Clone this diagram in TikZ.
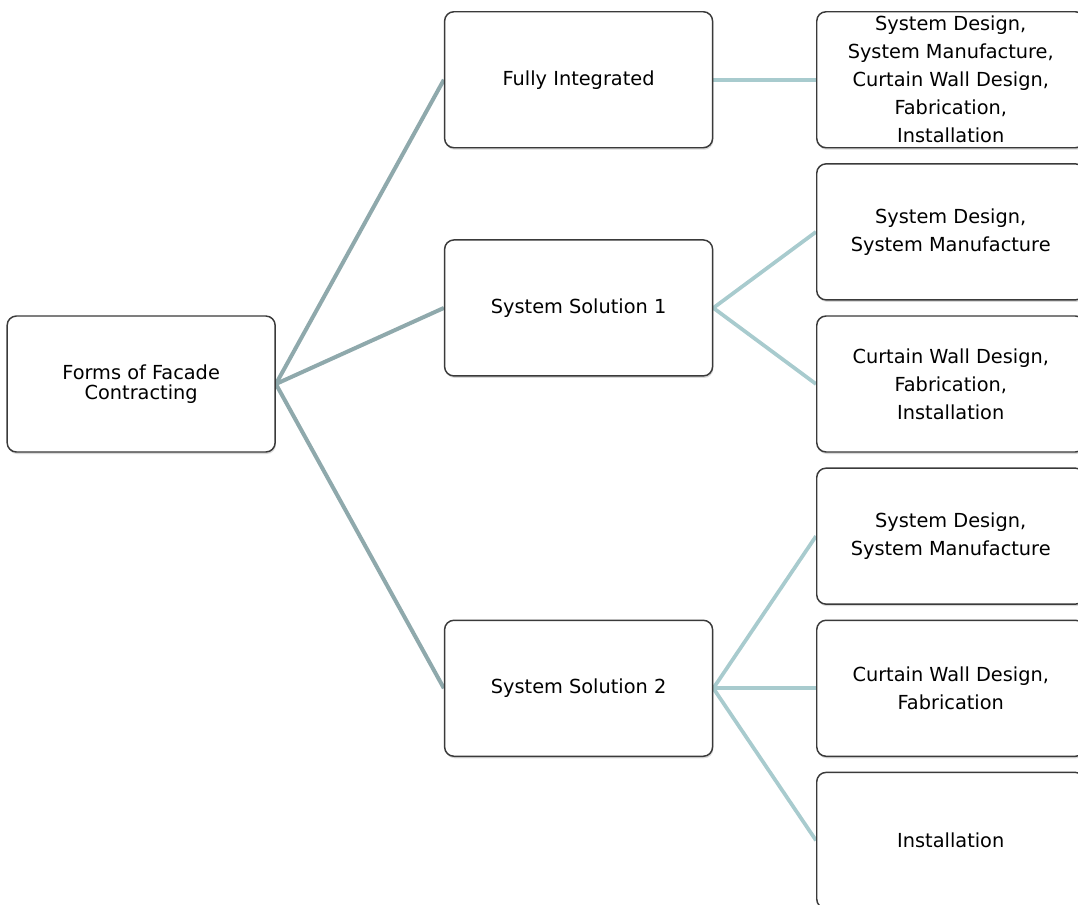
\documentclass[tikz,border=0pt]{standalone}
\usepackage{fontspec}
\setmainfont{DejaVu Sans}
\usetikzlibrary{positioning, calc, shadows, backgrounds}
\definecolor{trunkline}{HTML}{8FA9AC}
\definecolor{branchline}{HTML}{A8CBCE}
\definecolor{boxline}{HTML}{3A3A3A}

\begin{document}
\begin{tikzpicture}[
  x=0.75pt, y=-0.75pt,
  node distance=11pt and 77pt,
  box/.style={draw=boxline, line width=1.1pt, rounded corners=7pt, fill=white,
    minimum width=201pt, minimum height=102pt, align=center,
    font=\fontsize{14.5}{21}\selectfont,
    drop shadow={opacity=0.3, shadow xshift=0.6pt, shadow yshift=-1.5pt}},
  trunk/.style={line width=3pt, color=trunkline},
  branch/.style={line width=2.8pt, color=branchline},
]
\useasboundingbox (0,0) rectangle (1078,904);

% Right column: what each form covers
\node[box, anchor=north west] (r1) at (816,11)
  {System Design,\\System Manufacture,\\Curtain Wall Design,\\Fabrication,\\Installation};
\node[box, below=of r1] (r2) {System Design,\\System Manufacture};
\node[box, below=of r2] (r3) {Curtain Wall Design,\\Fabrication,\\Installation};
\node[box, below=of r3] (r4) {System Design,\\System Manufacture};
\node[box, below=of r4] (r5) {Curtain Wall Design,\\Fabrication};
\node[box, below=of r5] (r6) {Installation};

% Middle column: the forms
\coordinate (gap23) at ($(r2.south west)!0.5!(r3.north west)$);
\node[box, left=of r1] (full) {Fully Integrated};
\node[box, left=of gap23] (sol1) {System Solution 1};
\node[box, left=of r5] (sol2) {System Solution 2};

% Root, level with r3
\coordinate (rootpt) at (sol1.west |- r3.west);
\node[box, left=126pt of rootpt, font=\fontsize{14.5}{15}\selectfont] (root)
  {Forms of Facade\\Contracting};

\begin{scope}[on background layer]
\draw[trunk] (root.east) -- (full.west);
\draw[trunk] (root.east) -- (sol1.west);
\draw[trunk] (root.east) -- (sol2.west);

\draw[branch] (full.east) -- (r1.west);
\draw[branch] (sol1.east) -- (r2.west);
\draw[branch] (sol1.east) -- (r3.west);
\draw[branch] (sol2.east) -- (r4.west);
\draw[branch] (sol2.east) -- (r5.west);
\draw[branch] (sol2.east) -- (r6.west);
\end{scope}

\end{tikzpicture}
\end{document}
